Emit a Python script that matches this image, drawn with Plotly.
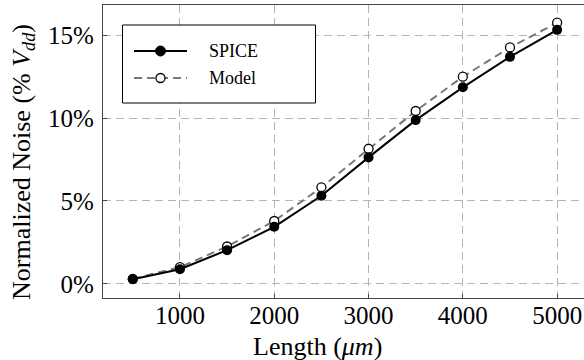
import plotly.graph_objects as go

lengths = [500, 1000, 1500, 2000, 2500, 3000, 3500, 4000, 4500, 5000]
spice = [0.27, 0.88, 2.03, 3.44, 5.31, 7.63, 9.88, 11.86, 13.70, 15.33]
model = [0.30, 1.00, 2.25, 3.79, 5.82, 8.15, 10.43, 12.50, 14.27, 15.76]
x_ticks = [1000, 2000, 3000, 4000, 5000]
y_ticks = [0, 5, 10, 15]
y_tick_labels = ["0%", "5%", "10%", "15%"]
series_names = ["SPICE", "Model"]

FONT = "Liberation Serif"
W, H = 584, 360
L, R, T, B = 103, 0, 5, 62
PW, PH = W - L - R, H - T - B


def px(xp):
    return (xp - L) / PW


def py(yp):
    return (H - B - yp) / PH


fig = go.Figure()
fig.add_trace(go.Scatter(
    x=lengths, y=model, name=series_names[1], mode="lines+markers",
    line=dict(color="#777777", width=2, dash="8px,5px"),
    marker=dict(symbol="circle", size=9, color="white",
                line=dict(color="black", width=1.3)),
    showlegend=False, hoverinfo="skip",
))
fig.add_trace(go.Scatter(
    x=lengths, y=spice, name=series_names[0], mode="lines+markers",
    line=dict(color="black", width=2),
    marker=dict(symbol="circle", size=10, color="black"),
    showlegend=False, hoverinfo="skip",
))

axis = dict(showgrid=True, gridcolor="#b4b4b4", gridwidth=1, griddash="8px,5px",
            zeroline=False, showline=True, linecolor="#444444", linewidth=1.2,
            ticks="inside", ticklen=4, tickcolor="#444444",
            tickfont=dict(family=FONT, size=25, color="black"))

shapes = [
    dict(type="rect", xref="paper", yref="paper",
         x0=px(122.5), x1=px(315.5), y0=py(25), y1=py(103),
         line=dict(color="black", width=1), fillcolor="white", layer="above"),
    dict(type="line", xref="paper", yref="paper",
         x0=px(134), x1=px(187), y0=py(51), y1=py(51),
         line=dict(color="black", width=2), layer="above"),
    dict(type="circle", xref="paper", yref="paper", xsizemode="pixel", ysizemode="pixel",
         xanchor=px(160.5), yanchor=py(51), x0=-5, x1=5, y0=-5, y1=5,
         fillcolor="black", line=dict(color="black", width=1), layer="above"),
    dict(type="line", xref="paper", yref="paper",
         x0=px(134), x1=px(187), y0=py(78), y1=py(78),
         line=dict(color="#777777", width=2, dash="8px,5px"), layer="above"),
    dict(type="circle", xref="paper", yref="paper", xsizemode="pixel", ysizemode="pixel",
         xanchor=px(160.5), yanchor=py(78), x0=-4.5, x1=4.5, y0=-4.5, y1=4.5,
         fillcolor="white", line=dict(color="black", width=1.3), layer="above"),
]

annotations = [
    dict(text=series_names[0], xref="paper", yref="paper", x=px(207), y=py(51),
         xanchor="left", yanchor="middle", showarrow=False,
         font=dict(family=FONT, size=18, color="black")),
    dict(text=series_names[1], xref="paper", yref="paper", x=px(207), y=py(78),
         xanchor="left", yanchor="middle", showarrow=False,
         font=dict(family=FONT, size=18, color="black")),
    dict(text="Length (<i>μm</i>)", xref="paper", yref="paper",
         x=px(317), y=py(346), xanchor="center", yanchor="middle",
         showarrow=False, font=dict(family=FONT, size=26, color="black")),
    dict(text="Normalized Noise (% <i>V<sub>dd</sub></i>)", xref="paper", yref="paper",
         x=px(23), y=py(162), xanchor="center", yanchor="middle", textangle=-90,
         showarrow=False, font=dict(family=FONT, size=26, color="black")),
]

fig.update_layout(
    width=W, height=H,
    font=dict(family=FONT, color="black"),
    margin=dict(l=L, r=R, t=T, b=B, autoexpand=False),
    plot_bgcolor="white", paper_bgcolor="white",
    showlegend=False,
    xaxis=dict(range=[184, 5285], tickvals=x_ticks, mirror=True,
               ticklabelstandoff=-5, **axis),
    yaxis=dict(range=[-0.86, 16.83], tickvals=y_ticks, ticktext=y_tick_labels,
               ticklabelstandoff=3, **axis),
    shapes=shapes,
    annotations=annotations,
)

fig.write_html("out.html", config={"displayModeBar": False, "staticPlot": True},
               post_script="document.body.style.margin='0';document.body.style.padding='0';")
